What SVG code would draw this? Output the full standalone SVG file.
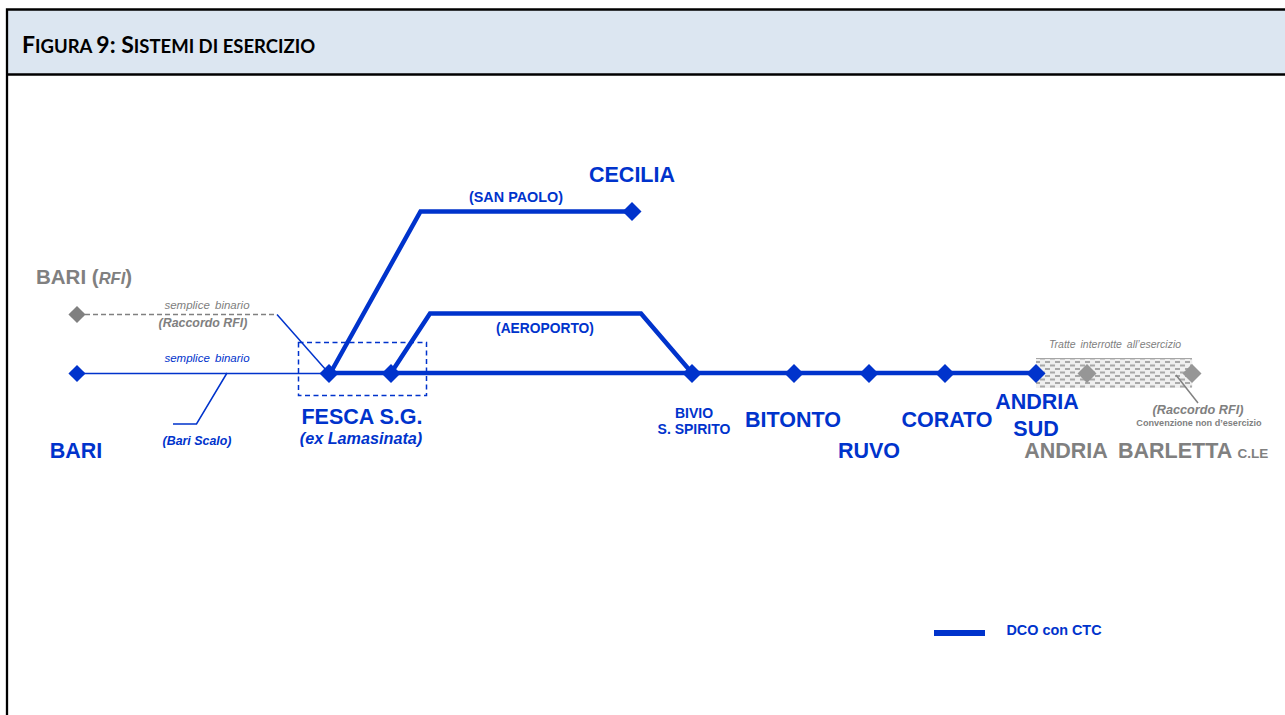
<svg xmlns="http://www.w3.org/2000/svg" width="1285" height="715" viewBox="0 0 1285 715">
<style>
text{font-family:"Liberation Sans",Arial,sans-serif;font-weight:bold}
.b{fill:#0033cc}.g{fill:#808080}
.n{font-size:21.500px}.m{font-size:14px}
.s{font-size:11.500px;font-style:italic;font-weight:normal;word-spacing:2px}
.i{font-size:12.400px;font-style:italic}
.c{font-size:14.400px}
.d{fill:#0033cc}.dg{fill:#969696}
.t{fill:none;stroke:#0033cc;stroke-width:4.500}
.l{fill:none;stroke:#0033cc;stroke-width:1.500}
</style>
<defs>
<pattern id="h" width="10" height="7" patternUnits="userSpaceOnUse">
<rect width="10" height="7" fill="#efefef"/>
<path d="M0 1.500h5M5 5h5" stroke="#a8a8a8" stroke-width="1.800" fill="none"/>
</pattern>
<path id="dia" d="M0-9.500L9.500 0 0 9.500-9.500 0Z"/>
</defs>
<g id="frame">
<rect x="7" y="9" width="1290" height="65" fill="#dce6f1"/>
<path d="M7 715V9.500H1285M7 74.500H1285" fill="none" stroke="#000" stroke-width="2.300"/>
<text x="22" y="52.500" fill="#000" style="font-family:Lato,'Open Sans',sans-serif;font-size:18px"><tspan font-size="23">F</tspan><tspan font-size="18.500">IGURA </tspan><tspan font-size="23">9: S</tspan><tspan font-size="18.500">ISTEMI DI ESERCIZIO</tspan></text>
</g>
<g id="hatch"><path d="M1036 358.500H1192L1193 373 1192 388H1036Z" fill="url(#h)"/><path d="M1036 358.500H1192" stroke="#a6a6a6" fill="none"/></g>
<g id="connectors">
<path class="t" d="M329 373H1036"/>
<path class="t" d="M331 372L420.500 211.500H632"/>
<path class="t" d="M391 373L430 313.500H641L692 373"/>
<path class="l" d="M77 373.500H329"/>
<path class="l" d="M277 314.500L326 370"/>
<path class="l" d="M173 424H196.500L227 373"/>
<path d="M77 314.500H277" fill="none" stroke="#808080" stroke-width="1.500" stroke-dasharray="5 3"/>
<path d="M1176 375L1198 403" fill="none" stroke="#808080" stroke-width="1.500"/>
<rect x="298.500" y="342.500" width="128" height="53" fill="none" stroke="#0033cc" stroke-width="1.500" stroke-dasharray="5 3.500"/>
</g>
<g id="n-bari-rfi"><use href="#dia" class="dg" style="fill:#808080" transform="translate(77 314.500) scale(.9)"/><text x="36" y="284" class="g" style="font-size:20.500px">BARI (<tspan font-size="16.500" font-style="italic">RFI</tspan>)</text></g>
<g id="n-bari"><use href="#dia" class="d" transform="translate(77 373.500) scale(.9)"/><text x="76" y="458" class="b n" text-anchor="middle">BARI</text></g>
<g id="n-fesca"><use href="#dia" class="d" transform="translate(329 373.500)"/><use href="#dia" class="d" transform="translate(391 373.500)"/><text x="362" y="424" class="b n" text-anchor="middle">FESCA S.G.</text><text x="361" y="444" class="b" font-style="italic" font-size="16.200" text-anchor="middle">(ex Lamasinata)</text></g>
<g id="n-cecilia"><use href="#dia" class="d" transform="translate(632 211.500)"/><text x="632" y="182" class="b n" text-anchor="middle">CECILIA</text></g>
<g id="n-bivio"><use href="#dia" class="d" transform="translate(692 373.500)"/><text x="694" y="418" class="b m" text-anchor="middle">BIVIO</text><text x="694" y="434" class="b m" text-anchor="middle">S. SPIRITO</text></g>
<g id="n-bitonto"><use href="#dia" class="d" transform="translate(794 373.500)"/><text x="793" y="427" class="b n" text-anchor="middle">BITONTO</text></g>
<g id="n-ruvo"><use href="#dia" class="d" transform="translate(869 373.500)"/><text x="869" y="458" class="b n" text-anchor="middle">RUVO</text></g>
<g id="n-corato"><use href="#dia" class="d" transform="translate(945 373.500)"/><text x="947" y="427" class="b n" text-anchor="middle">CORATO</text></g>
<g id="n-andria-sud"><use href="#dia" class="d" transform="translate(1036 373.500)"/><text x="1037" y="409" class="b n" text-anchor="middle">ANDRIA</text><text x="1036" y="436" class="b n" text-anchor="middle">SUD</text></g>
<g id="n-andria"><use href="#dia" class="dg" transform="translate(1087 373.500)"/><text x="1066" y="458" class="g n" text-anchor="middle">ANDRIA</text></g>
<g id="n-barletta"><use href="#dia" class="dg" transform="translate(1192 373.500)"/><text x="1118" y="458" class="g n">BARLETTA <tspan font-size="13.500">C.LE</tspan></text></g>
<g id="labels">
<text x="207" y="309" class="g s" text-anchor="middle">semplice binario</text>
<text x="203" y="327" class="g i" text-anchor="middle">(Raccordo RFI)</text>
<text x="207" y="362" class="b s" text-anchor="middle">semplice binario</text>
<text x="197" y="445" class="b i" text-anchor="middle">(Bari Scalo)</text>
<text x="516" y="202" class="b c" text-anchor="middle">(SAN PAOLO)</text>
<text x="545" y="333" class="b" style="font-size:13.800px" text-anchor="middle">(AEROPORTO)</text>
<text x="1115" y="348" class="g s" style="font-size:10.500px" text-anchor="middle">Tratte interrotte all’esercizio</text>
<text x="1198" y="414" class="g i" style="font-size:12.700px" text-anchor="middle">(Raccordo RFI)</text>
<text x="1199" y="426" class="g" style="font-size:9.100px" text-anchor="middle">Convenzione non d’esercizio</text>
</g>
<g id="legend"><rect x="934" y="630" width="51" height="6" class="d"/><text x="1054" y="635" class="b c" text-anchor="middle">DCO con CTC</text></g>
</svg>
